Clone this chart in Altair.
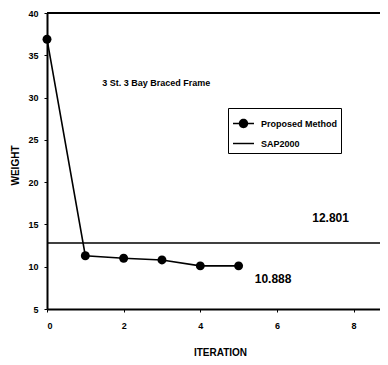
import altair as alt
import pandas as pd

# ---- data ----
iterations = [0, 1, 2, 3, 4, 5]
weights = [36.9, 11.3, 11.0, 10.8, 10.1, 10.1]
sap2000_weight = [12.801]
series_names = ["Proposed Method", "SAP2000"]
x_ticks = [0, 2, 4, 6, 8]
y_ticks = [5, 10, 15, 20, 25, 30, 35, 40]
note_texts = ["3 St. 3 Bay Braced Frame", "12.801", "10.888"]
note_x = [2.85, 7.4, 5.9]
note_y = [31.7, 15.8, 8.5]
note_sizes = [9, 12, 12]

FONT = "Liberation Sans"

df = pd.DataFrame({"iteration": iterations, "weight": weights,
                   "series": ["Proposed Method"] * len(iterations)})
sap_df = pd.DataFrame({"weight": sap2000_weight})
top_df = pd.DataFrame({"weight": [y_ticks[-1]]})
notes_df = pd.DataFrame({"x": note_x, "y": note_y, "text": note_texts, "size": note_sizes})

x_scale = alt.Scale(domain=[0, 8.69], nice=False, zero=False)
y_scale = alt.Scale(domain=[5, 40], nice=False, zero=False)

x_enc = alt.X("iteration:Q", scale=x_scale,
              axis=alt.Axis(values=x_ticks, title="ITERATION", titleX=173, titleY=38,
                            labelPadding=9))
y_enc = alt.Y("weight:Q", scale=y_scale,
              axis=alt.Axis(values=y_ticks, title="WEIGHT", titleX=-27, titleY=152,
                            labelPadding=6))

line = alt.Chart(df).mark_line(color="black", strokeWidth=1.6).encode(x=x_enc, y=y_enc)
points = alt.Chart(df).mark_circle(color="black", size=80, opacity=1).encode(x=x_enc, y=y_enc)

sap_rule = alt.Chart(sap_df).mark_rule(color="black", strokeWidth=1.6).encode(
    y=alt.Y("weight:Q", scale=y_scale))
top_rule = alt.Chart(top_df).mark_rule(color="black", strokeWidth=2).encode(
    y=alt.Y("weight:Q", scale=y_scale))

# legend glyphs as filled paths (line pieces + dot, and a plain line)
combo_path = ("M-1,-0.07L-0.4,-0.07L-0.4,0.07L-1,0.07Z"
              "M0.4,-0.07L1,-0.07L1,0.07L0.4,0.07Z"
              "M0.45,0A0.45,0.45,0,1,1,-0.45,0A0.45,0.45,0,1,1,0.45,0Z")
line_path = "M-1,-0.07L1,-0.07L1,0.07L-1,0.07Z"

legend_layer = alt.Chart(df).mark_point(opacity=0, filled=True, color="black").encode(
    x=alt.X("iteration:Q", scale=x_scale),
    y=alt.Y("weight:Q", scale=y_scale),
    shape=alt.Shape("series:N",
                    scale=alt.Scale(domain=series_names, range=[combo_path, line_path]),
                    legend=alt.Legend(orient="none", legendX=181, legendY=95, title=None,
                                      strokeColor="black", padding=4, rowPadding=0,
                                      symbolSize=440, symbolOpacity=1,
                                      symbolFillColor="black", labelFont=FONT,
                                      labelFontWeight="bold", labelFontSize=9,
                                      labelColor="black", labelOffset=6)))

notes = alt.Chart(notes_df).mark_text(font=FONT, fontWeight="bold", color="black").encode(
    x=alt.X("x:Q", scale=x_scale),
    y=alt.Y("y:Q", scale=y_scale),
    text="text:N",
    size=alt.Size("size:Q", scale=None, legend=None))

chart = alt.layer(sap_rule, top_rule, line, points, legend_layer, notes).properties(
    width=333, height=296,
    autosize=alt.AutoSizeParams(type="none"),
    padding={"left": 39, "top": 5, "right": 0, "bottom": 48},
).configure_view(stroke=None).configure_axis(
    grid=False, domainColor="black", domainWidth=2, tickColor="black", tickSize=3,
    labelFont=FONT, labelFontWeight="bold", labelFontSize=9, labelColor="black",
    titleFont=FONT, titleFontWeight="bold", titleFontSize=10, titleColor="black",
)

chart.save("out.html", embed_options={"renderer": "svg", "actions": False})
